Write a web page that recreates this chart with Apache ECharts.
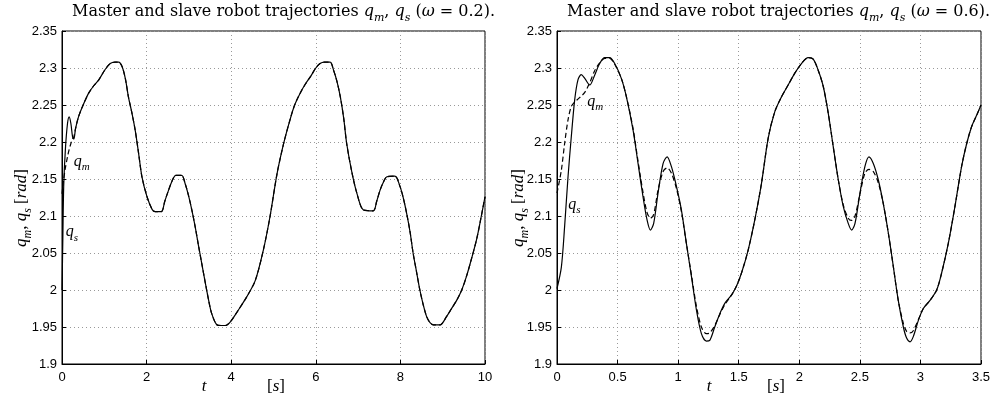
<!DOCTYPE html>
<html><head><meta charset="utf-8">
<script src="https://cdn.jsdelivr.net/npm/echarts@6/dist/echarts.min.js"></script>
<style>html,body{margin:0;padding:0;background:#fff}#c{width:994px;height:399px}</style>
</head><body><div id="c"></div>
<script>
// ---- data ----
const leftT = [0,0.02,0.04,0.08,0.13,0.17,0.21,0.25,0.28,0.32,0.39,0.5,0.63,0.75,0.87,1.02,1.14,1.25,1.34,1.42,1.5,1.57,1.65,1.73,1.81,1.89,2.01,2.13,2.2,2.35,2.43,2.52,2.6,2.69,2.83,2.91,2.99,3.07,3.15,3.23,3.31,3.39,3.46,3.54,3.66,3.76,3.86,3.98,4.17,4.37,4.57,4.76,4.92,5.08,5.24,5.39,5.5,5.63,5.75,5.87,6.0,6.1,6.2,6.34,6.42,6.5,6.58,6.66,6.73,6.85,6.97,7.13,7.36,7.44,7.52,7.6,7.68,7.87,7.99,8.07,8.15,8.23,8.3,8.38,8.46,8.54,8.62,8.7,8.78,8.94,9.09,9.2,9.33,9.45,9.56,9.68,9.8,9.9,10.0];
const leftQs = [2.0,2.07,2.14,2.19,2.225,2.234,2.225,2.207,2.204,2.218,2.234,2.25,2.266,2.276,2.284,2.298,2.306,2.308,2.308,2.302,2.285,2.261,2.24,2.216,2.185,2.153,2.126,2.109,2.106,2.106,2.12,2.135,2.147,2.155,2.155,2.144,2.128,2.108,2.085,2.059,2.034,2.009,1.988,1.968,1.953,1.952,1.952,1.957,1.973,1.991,2.013,2.054,2.1,2.156,2.198,2.23,2.25,2.266,2.278,2.288,2.3,2.306,2.308,2.308,2.297,2.282,2.261,2.232,2.198,2.16,2.131,2.108,2.107,2.12,2.135,2.146,2.153,2.154,2.14,2.124,2.103,2.078,2.05,2.025,2.0,1.98,1.964,1.956,1.953,1.953,1.964,1.974,1.986,2.0,2.018,2.042,2.068,2.096,2.126];
const leftQm = [2.13,2.14,2.15,2.165,2.18,2.19,2.198,2.204,2.207,2.218,2.234,2.25,2.266,2.276,2.284,2.298,2.306,2.308,2.308,2.302,2.285,2.261,2.24,2.216,2.185,2.153,2.126,2.109,2.106,2.106,2.12,2.135,2.147,2.155,2.155,2.144,2.128,2.108,2.085,2.059,2.034,2.009,1.988,1.968,1.953,1.952,1.952,1.957,1.973,1.991,2.013,2.054,2.1,2.156,2.198,2.23,2.25,2.266,2.278,2.288,2.3,2.306,2.308,2.308,2.297,2.282,2.261,2.232,2.198,2.16,2.131,2.108,2.107,2.12,2.135,2.146,2.153,2.154,2.14,2.124,2.103,2.078,2.05,2.025,2.0,1.98,1.964,1.956,1.953,1.953,1.964,1.974,1.986,2.0,2.018,2.042,2.068,2.096,2.126];

const rightT = [0,0.036,0.063,0.091,0.118,0.146,0.173,0.2,0.229,0.27,0.31,0.352,0.394,0.435,0.476,0.531,0.573,0.628,0.669,0.71,0.743,0.771,0.798,0.834,0.876,0.909,0.944,0.986,1.027,1.068,1.11,1.151,1.192,1.233,1.261,1.302,1.344,1.385,1.44,1.481,1.523,1.578,1.633,1.688,1.743,1.798,1.853,1.908,1.963,2.018,2.073,2.115,2.156,2.198,2.239,2.28,2.322,2.363,2.404,2.432,2.46,2.501,2.542,2.575,2.611,2.652,2.693,2.735,2.776,2.817,2.859,2.886,2.914,2.941,2.983,3.024,3.079,3.134,3.175,3.23,3.285,3.34,3.382,3.423,3.464,3.5];
const rightQs = [2.002,2.031,2.086,2.153,2.207,2.257,2.284,2.291,2.286,2.277,2.29,2.306,2.314,2.314,2.306,2.286,2.261,2.216,2.171,2.126,2.095,2.081,2.09,2.131,2.171,2.18,2.167,2.14,2.108,2.063,2.018,1.973,1.941,1.931,1.932,1.95,1.968,1.982,1.993,2.005,2.023,2.054,2.095,2.144,2.205,2.241,2.261,2.277,2.293,2.306,2.314,2.312,2.297,2.275,2.239,2.194,2.149,2.113,2.09,2.081,2.09,2.131,2.167,2.18,2.171,2.149,2.117,2.077,2.032,1.986,1.95,1.935,1.93,1.937,1.959,1.975,1.986,2.0,2.023,2.063,2.113,2.167,2.198,2.221,2.236,2.25];
const rightQm = [2.131,2.162,2.198,2.23,2.248,2.254,2.258,2.262,2.267,2.28,2.296,2.307,2.313,2.313,2.305,2.286,2.261,2.218,2.174,2.132,2.105,2.097,2.102,2.135,2.16,2.165,2.158,2.137,2.106,2.063,2.02,1.978,1.95,1.941,1.942,1.952,1.967,1.98,1.993,2.005,2.023,2.054,2.095,2.144,2.205,2.241,2.261,2.277,2.293,2.306,2.314,2.312,2.297,2.275,2.239,2.194,2.149,2.115,2.097,2.094,2.1,2.13,2.158,2.163,2.16,2.145,2.117,2.077,2.032,1.986,1.955,1.944,1.942,1.945,1.96,1.975,1.986,2.0,2.023,2.063,2.113,2.167,2.198,2.221,2.236,2.25];

const leftXTicks = {min: 0, max: 10, interval: 2};
const rightXTicks = {min: 0, max: 3.5, interval: 0.5};
const yTicks = {min: 1.9, max: 2.35, interval: 0.05};
const titles = ['0.2', '0.6'];

// ---- chart ----
const zip = (t, v) => t.map((x, i) => [x, v[i]]);
const serif = 'Liberation Serif';
const tserif = 'DejaVu Serif';
const sans = 'Liberation Sans';
function mkRich(fam, big, small) {
  return {
    n: {fontFamily: fam, fontSize: big, fontWeight: 'normal', color: '#000', lineHeight: 24, verticalAlign: 'middle'},
    i: {fontFamily: fam, fontSize: big, fontStyle: 'italic', fontWeight: 'normal', color: '#000', lineHeight: 24, verticalAlign: 'middle'},
    s: {fontFamily: fam, fontSize: small, fontStyle: 'italic', fontWeight: 'normal', color: '#000', lineHeight: 24, verticalAlign: 'bottom'}
  };
}
const titleRich = mkRich(tserif, 16, 11);
const richMath = mkRich(serif, 17, 12);
const annRich = {
  i: {fontFamily: serif, fontSize: 16, fontStyle: 'italic', color: '#000', lineHeight: 22, verticalAlign: 'middle'},
  s: {fontFamily: serif, fontSize: 11, fontStyle: 'italic', color: '#000', lineHeight: 22, verticalAlign: 'bottom'}
};
function titleText(w) {
  return '{n|Master and slave robot trajectories }{i|q}{s|m}{n|, }{i|q}{s|s}{n| (}{i|ω}{n| = ' + w + ').}';
}
function xAxis(idx, tk) {
  return {
    type: 'value', gridIndex: idx, min: tk.min, max: tk.max, interval: tk.interval,
    axisLine: {show: true, onZero: false, lineStyle: {color: '#000', width: 1}},
    axisTick: {show: true, inside: true, length: 4, lineStyle: {color: '#000'}},
    axisLabel: {fontFamily: sans, fontSize: 13, color: '#000', margin: 7},
    splitLine: {show: true, lineStyle: {color: '#999', type: [1, 3], width: 1}}
  };
}
function yAxis(idx) {
  return {
    type: 'value', gridIndex: idx, min: yTicks.min, max: yTicks.max, interval: yTicks.interval,
    axisLine: {show: true, onZero: false, lineStyle: {color: '#000', width: 1}},
    axisTick: {show: true, inside: true, length: 4, lineStyle: {color: '#000'}},
    axisLabel: {fontFamily: sans, fontSize: 13, color: '#000', margin: 5},
    splitLine: {show: true, lineStyle: {color: '#999', type: [1, 3], width: 1}}
  };
}
function ann(t, v, sub) {
  return {coord: [t, v], symbol: 'circle', symbolSize: 1, itemStyle: {color: 'rgba(0,0,0,0)'},
    label: {show: true, position: 'right', distance: 0, formatter: '{i|q}{s|' + sub + '}', rich: annRich}};
}
function line(idx, data, dashed, marks) {
  const s = {
    type: 'line', xAxisIndex: idx, yAxisIndex: idx, data: data, showSymbol: false, symbol: 'none',
    smooth: 0.3, animation: false, z: dashed ? 3 : 2,
    lineStyle: {color: '#000', width: 1.2, type: dashed ? [5, 3] : 'solid'}
  };
  if (marks) s.markPoint = {silent: true, animation: false, data: marks};
  return s;
}
function gtext(x, y, text, rotate) {
  return {type: 'text', x: x, y: y, rotation: rotate || 0,
    style: {text: text, rich: richMath, align: 'center', verticalAlign: 'middle', fill: '#000'}};
}
const yName = '{i|q}{s|m}{n|, }{i|q}{s|s}{n| [}{i|rad}{n|]}';

const chart = echarts.init(document.getElementById('c'), null, {renderer: 'canvas'});
chart.setOption({
  backgroundColor: '#fff',
  animation: false,
  title: [
    {text: titleText(titles[0]), left: 72, top: 0, padding: 0, textStyle: {fontWeight: 'normal', rich: titleRich}},
    {text: titleText(titles[1]), left: 567, top: 0, padding: 0, textStyle: {fontWeight: 'normal', rich: titleRich}}
  ],
  grid: [
    {left: 62, top: 31, width: 423, height: 333, show: true, borderColor: '#000', borderWidth: 1, backgroundColor: 'transparent'},
    {left: 557, top: 31, width: 424, height: 333, show: true, borderColor: '#000', borderWidth: 1, backgroundColor: 'transparent'}
  ],
  xAxis: [xAxis(0, leftXTicks), xAxis(1, rightXTicks)],
  yAxis: [yAxis(0), yAxis(1)],
  series: [
    line(0, zip(leftT, leftQs), false, [ann(0.078, 2.078, 's')]),
    line(0, zip(leftT, leftQm), true, [ann(0.267, 2.173, 'm')]),
    line(1, zip(rightT, rightQs), false, [ann(0.088, 2.115, 's')]),
    line(1, zip(rightT, rightQm), true, [ann(0.245, 2.254, 'm')])
  ],
  graphic: [
    gtext(204, 387, '{i|t}'),
    gtext(276, 387, '{n|[}{i|s}{n|]}'),
    gtext(709, 387, '{i|t}'),
    gtext(776, 387, '{n|[}{i|s}{n|]}'),
    gtext(22, 208, yName, Math.PI / 2),
    gtext(519, 208, yName, Math.PI / 2)
  ]
});
</script>
</body></html>
